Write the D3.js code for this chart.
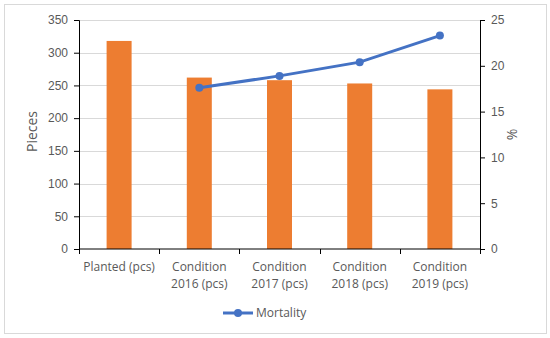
<!DOCTYPE html>
<html>
<head>
<meta charset="utf-8">
<script src="https://cdn.jsdelivr.net/npm/d3@7"></script>
<style>
  body { margin: 0; background: #fff; }
  svg { font-family: "Open Sans", sans-serif; }
</style>
</head>
<body>
<div id="chart"></div>
<script>
const categories = ["Planted (pcs)", "Condition 2016 (pcs)", "Condition 2017 (pcs)", "Condition 2018 (pcs)", "Condition 2019 (pcs)"];
const pieces = [318, 262, 258, 253, 244];
const mortality = [null, 17.6, 18.9, 20.4, 23.3];
const leftTicks = [0, 50, 100, 150, 200, 250, 300, 350];
const rightTicks = [0, 5, 10, 15, 20, 25];

const W = 550, H = 338;
const margin = {top: 20, right: 70, bottom: 89, left: 79};
const width = W - margin.left - margin.right;
const height = H - margin.top - margin.bottom;

const svg = d3.select("#chart").append("svg")
    .attr("width", W)
    .attr("height", H);

// chart frame
svg.append("rect")
    .attr("x", 4.5).attr("y", 4.5)
    .attr("width", 542).attr("height", 329)
    .attr("fill", "#fff")
    .attr("stroke", "#d9d9d9");

const g = svg.append("g")
    .attr("transform", `translate(${margin.left}, ${margin.top})`);

const x = d3.scaleBand().domain(categories).range([0, width]);
const yL = d3.scaleLinear().domain([0, 350]).range([height, 0]);
const yR = d3.scaleLinear().domain([0, 25]).range([height, 0]);

// gridlines
g.selectAll(".grid")
    .data(leftTicks.slice(1))
    .enter()
    .append("line")
        .attr("x1", 0)
        .attr("x2", width)
        .attr("y1", d => Math.round(yL(d)) + 0.5)
        .attr("y2", d => Math.round(yL(d)) + 0.5)
        .attr("stroke", "#d9d9d9");

// bars
const barW = 25;
g.selectAll(".bar")
    .data(pieces)
    .enter()
    .append("rect")
        .attr("x", (d, i) => x(categories[i]) + x.bandwidth() / 2 - barW / 2)
        .attr("y", d => yL(d))
        .attr("width", barW)
        .attr("height", d => height - yL(d))
        .attr("fill", "#ed7d31");

// axes
const styleAxis = sel => {
    sel.selectAll("path, line").attr("stroke", "#000");
    sel.selectAll("text").attr("fill", "#595959").attr("font-size", "12px");
};

g.append("g")
    .call(d3.axisLeft(yL).tickValues(leftTicks).tickSize(5).tickSizeOuter(5).tickPadding(6))
    .call(styleAxis);

g.append("g")
    .attr("transform", `translate(${width}, 0)`)
    .call(d3.axisRight(yR).tickValues(rightTicks).tickSize(5).tickSizeOuter(5).tickPadding(6))
    .call(styleAxis);

const xAxis = g.append("g")
    .attr("transform", `translate(0, ${height})`);
xAxis.append("line")
    .attr("x1", 0).attr("x2", width)
    .attr("y1", 0).attr("y2", 0)
    .attr("stroke", "#000");
xAxis.selectAll(".xtick")
    .data(categories.concat([null]))
    .enter()
    .append("line")
        .attr("x1", (d, i) => Math.round(i * x.step()) + 0.5)
        .attr("x2", (d, i) => Math.round(i * x.step()) + 0.5)
        .attr("y1", 0).attr("y2", 5)
        .attr("stroke", "#000");
xAxis.selectAll(".xlabel")
    .data(categories)
    .enter()
    .append("text")
        .attr("x", d => x(d) + x.bandwidth() / 2)
        .attr("y", 22)
        .attr("text-anchor", "middle")
        .attr("fill", "#595959")
        .attr("font-size", "12px")
        .each(function(d) {
            const m = d.match(/^(Condition) (.*)$/);
            const lines = m ? [m[1], m[2]] : [d];
            lines.forEach((t, k) => {
                d3.select(this).append("tspan")
                    .attr("x", x(d) + x.bandwidth() / 2)
                    .attr("dy", k === 0 ? 0 : 17)
                    .text(t);
            });
        });

// mortality line
const pts = mortality.map((v, i) => ({c: categories[i], v})).filter(d => d.v !== null);
const line = d3.line()
    .x(d => x(d.c) + x.bandwidth() / 2)
    .y(d => yR(d.v));
g.append("path")
    .datum(pts)
    .attr("d", line)
    .attr("fill", "none")
    .attr("stroke", "#4472c4")
    .attr("stroke-width", 3);
g.selectAll(".dot")
    .data(pts)
    .enter()
    .append("circle")
        .attr("cx", d => x(d.c) + x.bandwidth() / 2)
        .attr("cy", d => yR(d.v))
        .attr("r", 4)
        .attr("fill", "#4472c4");

// axis titles
svg.append("text")
    .attr("transform", `translate(37, ${margin.top + height / 2 - 3}) rotate(-90)`)
    .attr("text-anchor", "middle")
    .attr("fill", "#595959")
    .attr("font-size", "14px")
    .text("Pieces");
svg.append("text")
    .attr("transform", `translate(517, ${margin.top + height / 2}) rotate(-90)`)
    .attr("text-anchor", "middle")
    .attr("fill", "#595959")
    .attr("font-size", "14px")
    .text("%");

// legend
const legend = svg.append("g")
    .attr("transform", "translate(223, 313)");
legend.append("line")
    .attr("x1", 0).attr("x2", 30)
    .attr("y1", 0).attr("y2", 0)
    .attr("stroke", "#4472c4")
    .attr("stroke-width", 3);
legend.append("circle")
    .attr("cx", 15).attr("cy", 0).attr("r", 4)
    .attr("fill", "#4472c4");
legend.append("text")
    .attr("x", 33).attr("y", 0)
    .attr("dy", "0.35em")
    .attr("fill", "#595959")
    .attr("font-size", "12px")
    .text("Mortality");
</script>
</body>
</html>
